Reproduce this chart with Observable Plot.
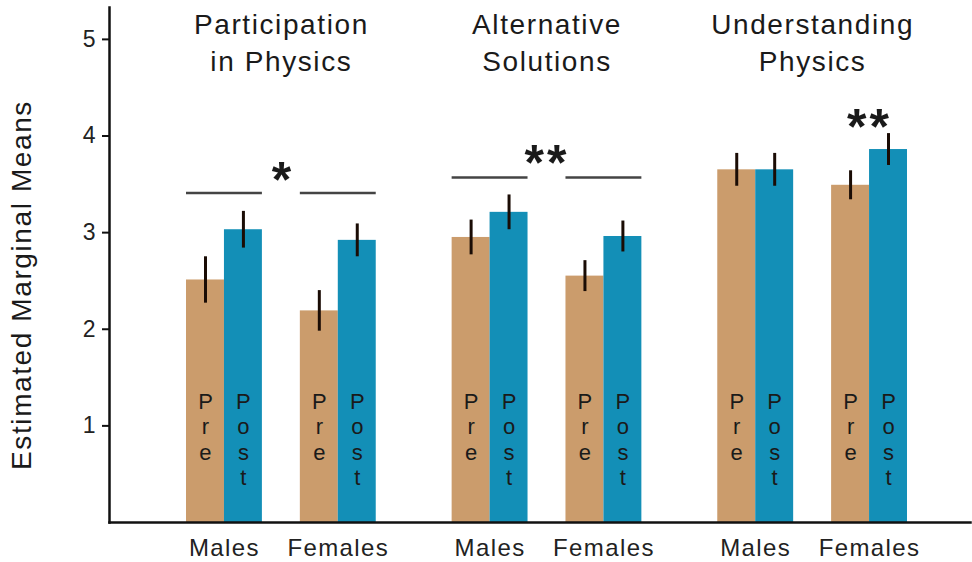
<!DOCTYPE html>
<html><head><meta charset="utf-8">
<script src="https://cdn.jsdelivr.net/npm/d3@7"></script>
<script src="https://cdn.jsdelivr.net/npm/@observablehq/plot@0.6"></script>
<style>
body{margin:0;background:#fff}
#chart svg{display:block}
</style>
</head><body><div id="chart"></div>
<script>
// ---- data ----
const panels = ["Participation", "Alternative", "Understanding"];
const panelTitles = ["Participation\nin Physics", "Alternative\nSolutions", "Understanding\nPhysics"];
const genders = ["Males", "Females"];
const phases = ["Pre", "Post"];
// order: P-Males, P-Females, A-Males, A-Females, U-Males, U-Females
const preMean  = [2.51, 2.19, 2.95, 2.55, 3.65, 3.49];
const postMean = [3.03, 2.92, 3.21, 2.96, 3.65, 3.86];
const preErr   = [0.24, 0.21, 0.18, 0.16, 0.17, 0.15];
const postErr  = [0.19, 0.17, 0.18, 0.16, 0.17, 0.165];
const sigLabels = ["*", "**", "**"];
const sigLineY  = [3.41, 3.57, null];
const sigStarY  = [3.63, 3.80, 4.18];
const sigAt     = ["gap", "gap", "Females"];
const yTicks = [1, 2, 3, 4, 5];
const yLabel = "Estimated Marginal Means";

// ---- build tables ----
const slots = [];
panels.forEach((p, i) => {
  slots.push(`${p}|Males|Pre`, `${p}|Males|Post`, `${p}|gap`, `${p}|Females|Pre`, `${p}|Females|Post`);
  if (i < panels.length - 1) slots.push(`${p}|sep1`, `${p}|sep2`);
});
const bars = [];
panels.forEach((p, i) => genders.forEach((g, j) => {
  const k = i * 2 + j;
  bars.push({slot: `${p}|${g}|Pre`, phase: "Pre", mean: preMean[k], err: preErr[k]});
  bars.push({slot: `${p}|${g}|Post`, phase: "Post", mean: postMean[k], err: postErr[k]});
}));
const genderLabels = panels.flatMap(p => genders.map(g => ({slot: `${p}|${g}|Pre`, label: g})));
const titles = panels.map((p, i) => ({slot: `${p}|gap`, label: panelTitles[i]}));
const sigLines = panels.flatMap((p, i) => sigLineY[i] == null ? [] : genders.map(g => ({x1: `${p}|${g}|Pre`, x2: `${p}|${g}|Post`, y: sigLineY[i]})));
const stars = panels.map((p, i) => ({slot: sigAt[i] === "gap" ? `${p}|gap` : `${p}|${sigAt[i]}|Pre`, half: sigAt[i] !== "gap", y: sigStarY[i], label: sigLabels[i]}));

const xRange = [186, 907];
const bw = (xRange[1] - xRange[0]) / slots.length;
const font = "Liberation Sans, Arial, Helvetica, sans-serif";
const starStyle = {x: "slot", y: "y", text: "label", fontSize: 50, fontWeight: "bold", fill: "#1a1a1a", lineAnchor: "middle", dy: 9, ariaLabel: "stars"};

const chart = Plot.plot({
  width: 972, height: 562,
  marginLeft: 109, marginRight: 2, marginTop: 7, marginBottom: 40,
  style: {fontFamily: font, background: "#fff", color: "#111"},
  x: {type: "band", domain: slots, range: xRange, padding: 0, round: false, axis: null},
  y: {domain: [0, 5.33], axis: null},
  color: {domain: phases, range: ["#cb9c6c", "#138fb7"]},
  marks: [
    Plot.barY(bars, {x: "slot", y: "mean", fill: "phase"}),
    Plot.ruleX(bars, {x: "slot", y1: d => d.mean - d.err, y2: d => d.mean + d.err, stroke: "#1a0c05", strokeWidth: 3}),
    Plot.text(bars, {x: "slot", text: d => d.phase.split("").join("\n"), frameAnchor: "bottom", lineAnchor: "top", dy: -132, fontSize: 22, lineHeight: 1.16, fill: "#1a1a1a"}),
    Plot.text(genderLabels, {x: "slot", text: "label", dx: bw / 2, frameAnchor: "bottom", lineAnchor: "middle", dy: 26, fontSize: 24, fill: "#222", ariaLabel: "gender-labels"}),
    Plot.text(titles, {x: "slot", text: "label", frameAnchor: "top", lineAnchor: "top", dy: 0, fontSize: 28, lineHeight: 1.32, fill: "#1a1a1a", ariaLabel: "panel-titles"}),
    Plot.ruleY(sigLines, {x1: "x1", x2: "x2", y: "y", stroke: "#444", strokeWidth: 2.5}),
    Plot.text(stars.filter(d => !d.half), {...starStyle}),
    Plot.text(stars.filter(d => d.half), {...starStyle, dx: bw / 2}),
    Plot.axisY({ticks: yTicks, tickFormat: d3.format("d"), tickSize: 7, tickPadding: 7, fontSize: 23, label: null, stroke: "#111", strokeWidth: 2, fill: "#222"}),
    Plot.frame({anchor: "left", stroke: "#111", strokeWidth: 2.5}),
    Plot.frame({anchor: "bottom", stroke: "#111", strokeWidth: 2.5}),
    Plot.text([yLabel], {text: d => d, frameAnchor: "left", textAnchor: "middle", rotate: -90, dx: -87, dy: 20, fontSize: 28, fill: "#1a1a1a", ariaLabel: "y-label"})
  ]
});
document.getElementById("chart").appendChild(chart);

// letter spacing (text styling) applied to the rendered text elements
const spacing = new Map();
titles.forEach(d => spacing.set(d.label.replace(/\n/g, ""), "1.6px"));
spacing.set(yLabel, "1.6px");
genders.forEach(g => spacing.set(g, "1.4px"));
sigLabels.forEach(s => { if (s.length > 1) spacing.set(s, "3px"); });
d3.select(chart).selectAll("text").each(function () {
  const s = spacing.get(this.textContent);
  if (s) { this.setAttribute("letter-spacing", s); this.style.letterSpacing = s; }
});
</script>
</body></html>
